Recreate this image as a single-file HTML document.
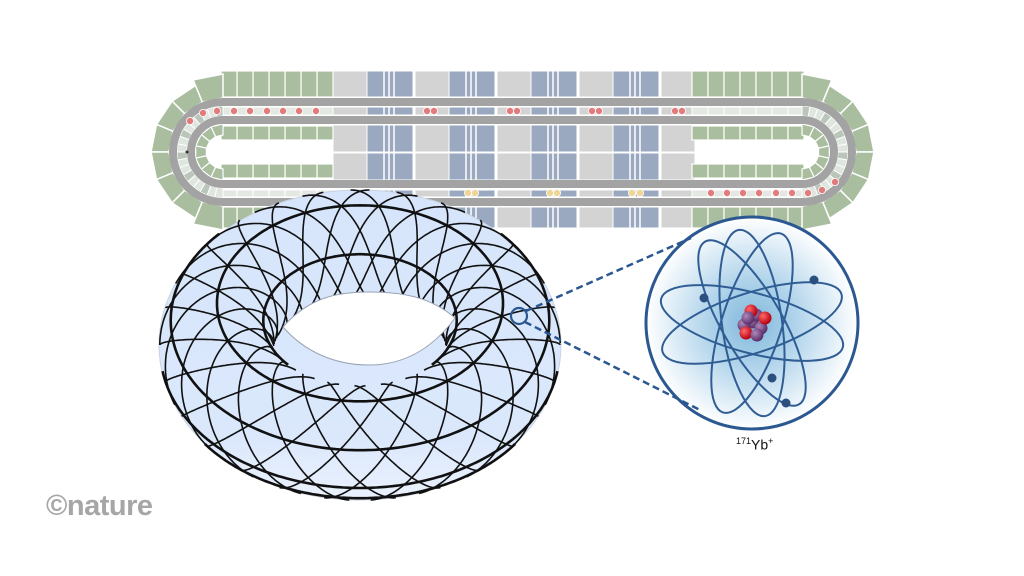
<!DOCTYPE html>
<html><head><meta charset="utf-8"><style>
html,body{margin:0;padding:0;background:#fff;width:1024px;height:576px;overflow:hidden}
svg{display:block}
.nat{position:absolute;left:46px;top:490px;font-family:"Liberation Sans",sans-serif;font-weight:bold;font-size:29px;color:#a6a6a6;letter-spacing:-0.5px}
.lab{position:absolute;left:736px;top:436px;font-family:"Liberation Sans",sans-serif;font-size:14px;color:#111}
.lab sup{font-size:9px}
</style></head><body>
<svg id="s" width="1024" height="576" viewBox="0 0 1024 576" xmlns="http://www.w3.org/2000/svg">
<defs>
<radialGradient id="ag" cx="50%" cy="50%" r="50%">
<stop offset="0" stop-color="#7fb8dc"/><stop offset="0.45" stop-color="#b5d6ec"/><stop offset="1" stop-color="#ffffff"/>
</radialGradient>
<linearGradient id="tg" x1="0" y1="0" x2="0" y2="1">
<stop offset="0" stop-color="#d6e5fb"/><stop offset="0.8" stop-color="#dbe8fc"/><stop offset="1" stop-color="#eaf1fd"/>
</linearGradient>
<radialGradient id="rd" cx="35%" cy="35%" r="65%"><stop offset="0" stop-color="#ff6a6a"/><stop offset="1" stop-color="#b80010"/></radialGradient>
<radialGradient id="pu" cx="35%" cy="35%" r="65%"><stop offset="0" stop-color="#b08ab8"/><stop offset="1" stop-color="#5a2e6a"/></radialGradient>
</defs>
<g id="race"></g>
<g id="torus"></g>
<g id="atom"></g>
</svg>
<div class="nat">©nature</div>
<div class="lab"><sup>171</sup>Yb<sup>+</sup></div>
<script>
var NS="http://www.w3.org/2000/svg";
function el(p,t,a){var e=document.createElementNS(NS,t);for(var k in a)e.setAttribute(k,a[k]);p.appendChild(e);return e;}
var R=document.getElementById('race');
var G='#a9bd9f', GY='#d3d3d3', BL='#9aa9c0', TR='#a3a3a3';
var rows=[[71,97],[107,115],[125,152],[153,180],[190,197],[207,228]];
for(var i=0;i<9;i++){
  var blue=(i%2==1);
  var w=blue?46:34;
  var x0 = 333 + Math.floor(i/2)*82 + (blue?34:0);
  rows.forEach(function(r){
    el(R,'rect',{x:x0,y:r[0],width:w,height:r[1]-r[0],fill:blue?BL:GY,stroke:'#fff','stroke-width':1});
  });
  if(blue){[17,22,27].forEach(function(d){el(R,'line',{x1:x0+d,y1:71,x2:x0+d,y2:228,stroke:'#fff','stroke-width':1.5});});}
}
function wedge(cx,cy,dir,r1,r2,a1,a2,fill,sw){
  var p=[[r1,a1],[r2,a1],[r2,a2],[r1,a2]];
  var d='M'+p.map(function(q){return (cx+dir*q[0]*Math.sin(q[1])).toFixed(1)+','+(cy-q[0]*Math.cos(q[1])).toFixed(1)}).join(' L')+'Z';
  el(R,'path',{d:d,fill:fill,stroke:'#fff','stroke-width':sw});
}
function side(cx,dir){
  for(var k=0;k<7;k++){var x=dir<0?333-(k+1)*16:692+k*16;
    el(R,'rect',{x:x,y:71,width:16,height:26,fill:G,stroke:'#fff','stroke-width':1.2});
    el(R,'rect',{x:x,y:207,width:16,height:21,fill:G,stroke:'#fff','stroke-width':1.2});
    el(R,'rect',{x:x,y:126,width:16,height:14,fill:G,stroke:'#fff','stroke-width':1.2});
    el(R,'rect',{x:x,y:164,width:16,height:14,fill:G,stroke:'#fff','stroke-width':1.2});
    el(R,'rect',{x:x,y:107,width:16,height:8,fill:'#e3e8e3',stroke:'#fff','stroke-width':1});
    el(R,'rect',{x:x,y:190,width:16,height:7,fill:'#e3e8e3',stroke:'#fff','stroke-width':1});
  }
  var cy=152,n=8;
  for(var k=0;k<n;k++){
    var a1=k*Math.PI/n,a2=a1+Math.PI/n;
    var ro=(k==0||k==n-1)?78:72;
    wedge(cx,cy,dir,54,ro,a1,a2,G,1.5);
  }
  for(var k=0;k<7;k++){var a1=k*Math.PI/7;wedge(cx,cy,dir,17,28,a1,a1+Math.PI/7,G,1.2);}
  for(var k=0;k<18;k++){var a1=k*Math.PI/18;wedge(cx,cy,dir,36,46,a1,a1+Math.PI/18,k%3?'#dfe6df':'#b9c6b9',1);}
}
side(223,-1); side(802,1);
function stad(r){return 'M223,'+(152-r)+' L802,'+(152-r)+' A'+r+','+r+' 0 0 1 802,'+(152+r)+' L223,'+(152+r)+' A'+r+','+r+' 0 0 1 223,'+(152-r)+'Z';}
el(R,'path',{d:stad(50),fill:'none',stroke:TR,'stroke-width':8});
el(R,'path',{d:stad(32),fill:'none',stroke:TR,'stroke-width':8});
function dot(x,y,c){el(R,'circle',{cx:x,cy:y,r:3.6,fill:c,stroke:'#fff','stroke-width':0.8});}
var pk='#e27b7b',yl='#efd597';
[217,234,250,267,283,299,316].forEach(function(x){dot(x,111,pk)});
dot(203,113,pk); dot(190,121,pk);
[427,434,510,517,592,599,675,682].forEach(function(x){dot(x,111,pk)});
[468,475,550,557,632,640].forEach(function(x){dot(x,193,yl)});
[711,727,743,759,776,792,808].forEach(function(x){dot(x,193,pk)});
dot(822,190,pk); dot(835,182,pk);
el(R,'circle',{cx:187,cy:152,r:1.5,fill:'#333'});

// torus
var T=document.getElementById('torus');
var Rr=1,r=0.4,a=0.755,S=143,CX=360,CY=345;
function proj(u,v){
  var x=(Rr+r*Math.cos(v))*Math.cos(u), y=(Rr+r*Math.cos(v))*Math.sin(u), z=r*Math.sin(v);
  var ny=Math.cos(v)*Math.sin(u),nz=Math.sin(v);
  var vis=ny*Math.cos(a)+nz*Math.sin(a);
  var X=CX+S*x, Y=CY+S*(y*Math.sin(a)-z*Math.cos(a));
  return [X,Y,vis];
}
el(T,'ellipse',{cx:CX,cy:CY,rx:201,ry:155,fill:'url(#tg)',stroke:'#c8d2e0','stroke-width':1});
function curve(fn,N,sw){
  var d='',on=false;
  for(var i=0;i<=N;i++){var uv=fn(i/N);var p=proj(uv[0],uv[1]);
    var ok=p[2]>0.0;
    var sv=Math.sin(uv[1]), cu=Math.sin(uv[0]), cv=Math.cos(uv[1]);
    if(cu>0.2 && cv<-0.2 && sv<0.5) ok=false;
    if(ok){d+=(on?'L':'M')+p[0].toFixed(1)+','+p[1].toFixed(1);on=true;}else on=false;
  }
  el(T,'path',{d:d,fill:'none',stroke:'#111','stroke-width':sw,'stroke-linejoin':'round'});
}
var NC=24;
for(var c=0;c<NC;c++){
  var c0=c*2*Math.PI/NC;
  (function(c0){
    curve(function(t){var v=t*2*Math.PI;return [c0+0.25*v,v];},240,1.6);
    curve(function(t){var v=t*2*Math.PI;return [c0-0.25*v,v];},240,1.6);
  })(c0);
}
[Math.PI*0.5,Math.PI*0.2,-0.15,-0.55,Math.PI*0.8].forEach(function(v){
  curve(function(t){return [t*2*Math.PI,v];},300,2.6);
});
el(T,'path',{d:'M283,327 C310,296 340,292 369,292 C400,292 430,296 455,318 C430,352 400,365 369,365 C335,365 305,352 283,327 Z',fill:'#fff',stroke:'#9aa3b3','stroke-width':1});

// atom
var A=document.getElementById('atom');
var ACX=752,ACY=323;
el(A,'circle',{cx:ACX,cy:ACY,r:106,fill:'url(#ag)',stroke:'#2c5891','stroke-width':3});
var oc='#2f5d94';
[-18,15,60,82,108].forEach(function(ang){
  el(A,'ellipse',{cx:ACX,cy:ACY,rx:94,ry:30,transform:'rotate('+ang+' '+ACX+' '+ACY+')',fill:'none',stroke:oc,'stroke-width':2});
});
[[704,298],[814,280],[772,378],[786,403]].forEach(function(q){el(A,'circle',{cx:q[0],cy:q[1],r:4.5,fill:'#2b4f7e'});});
[[752,322,'pu'],[744,325,'pu'],[761,328,'pu'],[756,315,'pu'],[751,311,'rd'],[765,318,'rd'],[746,333,'rd'],[757,335,'pu'],[748,318,'pu']].forEach(function(q){
  el(A,'circle',{cx:q[0],cy:q[1],r:6.5,fill:'url(#'+q[2]+')'});
});
el(A,'circle',{cx:519,cy:316,r:8,fill:'none',stroke:'#2c5891','stroke-width':2.2});
el(A,'line',{x1:526,y1:311,x2:691,y2:238,stroke:'#2c5891','stroke-width':2.5,'stroke-dasharray':'7,4'});
el(A,'line',{x1:525,y1:322,x2:700,y2:410,stroke:'#2c5891','stroke-width':2.5,'stroke-dasharray':'7,4'});
</script>
</body></html>
